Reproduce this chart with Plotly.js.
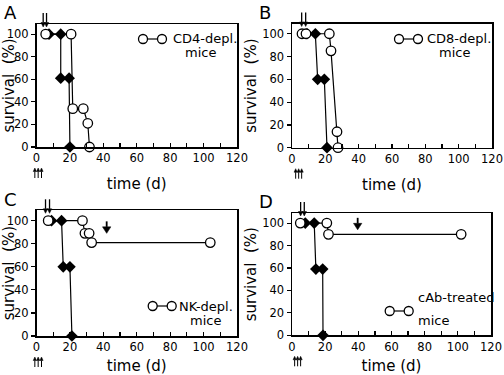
<!DOCTYPE html>
<html><head><meta charset="utf-8">
<script src="https://cdn.plot.ly/plotly-3.0.1.min.js"></script>
<style>html,body{margin:0;padding:0;background:#fff}#plot{width:504px;height:375px}</style>
</head><body><div id="plot"></div>
<script>
// ---- data ----
const panelLetters = ["A", "B", "C", "D"];
const xTicks = [0, 20, 40, 60, 80, 100, 120];
const yTicks = [0, 20, 40, 60, 80, 100];

const ctrlA_x = [7.5, 14.5, 14.5, 19.5, 20];
const ctrlA_y = [100, 100, 61, 61, 0];
const cd4_x = [5.5, 20.7, 21.7, 28, 30.7, 31.7];
const cd4_y = [100, 100, 34, 34, 21, 0];

const ctrlB_x = [9, 14, 15.4, 19.4, 21];
const ctrlB_y = [100, 100, 60, 60, 0];
const cd8_x = [6, 8.4, 22.4, 23.4, 27, 27.6];
const cd8_y = [100, 100, 100, 85, 14, 0];

const ctrlC_x = [9, 15, 16, 20, 21.2];
const ctrlC_y = [100, 100, 60, 60, 0];
const nk_x = [7, 27.5, 29, 31.5, 33, 104];
const nk_y = [100, 100, 89, 89, 81, 81];

const ctrlD_x = [8, 13.4, 14.4, 18.5, 18.7];
const ctrlD_y = [100, 100, 59, 59, 0];
const cab_x = [5, 21, 22, 102];
const cab_y = [100, 100, 90, 90];

const legendLine1 = ["CD4-depl.", "CD8-depl.", "NK-depl.", "cAb-treated"];
const legendLine2 = ["mice", "mice", "mice", "mice"];

// treatment arrows (days)
const downPairs = [[4, 6], [5.8, 8.2], [5.4, 7.8], [5.2, 7.4]];
const upTriples = [[-1, 1, 3], [2.2, 4, 5.8], [-1, 1, 3], [1.6, 3.4, 5.2]];
const bigArrowDays = [null, null, 42, 39.6];
const bigArrowLevel = [null, null, 89, 94];

// ---- layout helpers ----
const W = 504, H = 375;
const X_MAX = 120, Y_MAX = 109;
const FONT = "DejaVu Sans, Verdana, sans-serif";
const px = x => x / W, py = y => 1 - y / H;

function ctrlTrace(x, y, ax) {
  return {x, y, xaxis: "x" + ax, yaxis: "y" + ax, type: "scatter", mode: "lines+markers",
    cliponaxis: false, showlegend: false, hoverinfo: "skip",
    line: {color: "#000", width: 1.2},
    marker: {symbol: "diamond", size: 9, color: "#000", line: {color: "#000", width: 0}}};
}
function openTrace(x, y, ax) {
  return {x, y, xaxis: "x" + ax, yaxis: "y" + ax, type: "scatter", mode: "lines+markers",
    cliponaxis: false, showlegend: false, hoverinfo: "skip",
    line: {color: "#000", width: 1.2},
    marker: {symbol: "circle", size: 9.5, color: "#fff", line: {color: "#000", width: 1.3}}};
}
const s = i => (i === 1 ? "" : String(i));

const data = [
  ctrlTrace(ctrlA_x, ctrlA_y, ""), openTrace(cd4_x, cd4_y, ""),
  ctrlTrace(ctrlB_x, ctrlB_y, "2"), openTrace(cd8_x, cd8_y, "2"),
  ctrlTrace(ctrlC_x, ctrlC_y, "3"), openTrace(nk_x, nk_y, "3"),
  ctrlTrace(ctrlD_x, ctrlD_y, "4"), openTrace(cab_x, cab_y, "4"),
];

// subplot frames in pixels: [left, right, top, bottom]
const frames = [[36.5, 237, 24, 147], [292, 492, 23.5, 147.7], [36.5, 237, 210.3, 336], [292, 491, 213, 335.3]];

const layout = {
  width: W, height: H, margin: {l: 0, r: 0, t: 0, b: 0},
  paper_bgcolor: "#fff", plot_bgcolor: "#fff",
  font: {family: FONT, color: "#000", size: 11},
  annotations: [], shapes: []
};

// arrow drawn as shapes: shaft + filled head, tip at pixel (tx, ty), pointing up (dir=-1) or down (dir=1)
function arrowShape(tx, ty, len, dir, headLen, headHalf, width) {
  const ax = px(tx), ay = py(ty);
  const base = -dir * headLen;          // pixel offset (screen y downwards) of the head base
  const tail = -dir * len;
  // pixel-sized shapes use y upwards
  layout.shapes.push({type: "path", xref: "paper", yref: "paper", xsizemode: "pixel", ysizemode: "pixel",
    xanchor: ax, yanchor: ay, path: `M0,${-tail} L0,${-base}`, line: {color: "#000", width: width}});
  layout.shapes.push({type: "path", xref: "paper", yref: "paper", xsizemode: "pixel", ysizemode: "pixel",
    xanchor: ax, yanchor: ay, path: `M0,0 L${-headHalf},${-base} L${headHalf},${-base} Z`,
    fillcolor: "#000", line: {color: "#000", width: 0.5}});
}

frames.forEach((f, k) => {
  const i = k + 1, a = s(i);
  const wid = f[1] - f[0];
  const xpx = d => f[0] + d / X_MAX * wid;
  const ypx = v => f[3] - v / Y_MAX * (f[3] - f[2]);
  layout["xaxis" + a] = {
    domain: [px(f[0]), px(f[1])], anchor: "y" + a, range: [0, X_MAX],
    tickvals: xTicks, ticktext: xTicks.map(String), ticks: "inside", ticklen: 4, tickwidth: 1.2, tickcolor: "#000",
    minor: {dtick: 10, tick0: 0, ticks: "inside", ticklen: 4, tickwidth: 1.2, tickcolor: "#000"},
    showline: true, mirror: true, linecolor: "#000", linewidth: 1.5,
    showgrid: false, zeroline: false, tickfont: {family: FONT, size: 11.5},
    title: {text: "time (d)", font: {family: FONT, size: 15}, standoff: 14}
  };
  layout["yaxis" + a] = {
    domain: [py(f[3]), py(f[2])], anchor: "x" + a, range: [0, Y_MAX],
    tickvals: yTicks, ticks: "outside", ticklen: 4, tickwidth: 1.2, tickcolor: "#000",
    showline: true, mirror: true, linecolor: "#000", linewidth: 1.5,
    showgrid: false, zeroline: false, tickfont: {family: FONT, size: 11.5},
    title: {text: "survival&nbsp;&nbsp;(%)", font: {family: FONT, size: 15}, standoff: 2}
  };
  // panel letter
  layout.annotations.push({text: panelLetters[k], xref: "paper", yref: "paper",
    x: px(f[0] - 35), y: py(f[2] - 11), xanchor: "left", yanchor: "middle", showarrow: false,
    font: {family: FONT, size: 18}});
  // double down arrows at the top (tip 3px inside the frame)
  downPairs[k].forEach(d => arrowShape(xpx(d), f[2] + 3, 14, 1, 4.5, 2.2, 1.3));
  // three up arrows under the x axis
  upTriples[k].forEach(d => arrowShape(xpx(d), f[3] + 21, 10, -1, 3.5, 1.6, 1));
  // big down arrow
  if (bigArrowDays[k] !== null) arrowShape(xpx(bigArrowDays[k]), ypx(bigArrowLevel[k]), 12, 1, 6.5, 4.2, 1.8);
});

// legends: O—O symbol + two text lines  [c1x, c2x, cy, textX, line1Y, mice X, line2Y]
const legendPos = [
  [143, 162, 39, 171, 39, 183, 53],
  [399, 418, 39, 425, 39, 437, 53],
  [152.7, 171.7, 306, 177, 306, 188, 320],
  [389.7, 408.7, 311, 416, 297.5, 416, 320.5]
];
legendPos.forEach((p, k) => {
  layout.shapes.push({type: "line", xref: "paper", yref: "paper", x0: px(p[0]), x1: px(p[1]), y0: py(p[2]), y1: py(p[2]),
    line: {color: "#000", width: 1.2}});
  [p[0], p[1]].forEach(cx => layout.shapes.push({type: "circle", xref: "paper", yref: "paper",
    xsizemode: "pixel", ysizemode: "pixel", xanchor: px(cx), yanchor: py(p[2]),
    x0: -4.5, x1: 4.5, y0: -4.5, y1: 4.5, fillcolor: "#fff", line: {color: "#000", width: 1.3}}));
  layout.annotations.push({text: legendLine1[k], xref: "paper", yref: "paper", x: px(p[3]), y: py(p[4]),
    xanchor: "left", yanchor: "middle", showarrow: false, font: {family: FONT, size: 13}});
  layout.annotations.push({text: legendLine2[k], xref: "paper", yref: "paper", x: px(p[5]), y: py(p[6]),
    xanchor: "left", yanchor: "middle", showarrow: false, font: {family: FONT, size: 13}});
});

Plotly.newPlot("plot", data, layout, {staticPlot: true, displayModeBar: false});
</script></body></html>
